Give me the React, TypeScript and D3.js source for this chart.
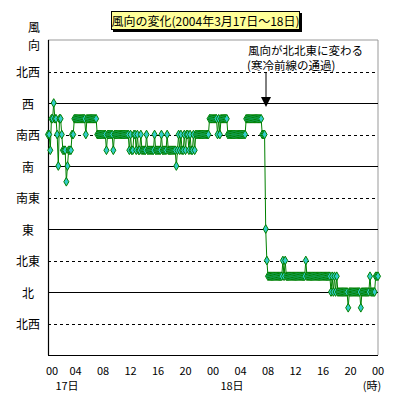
import React from "react";
import * as d3 from "d3";

// Wind direction codes (16-point): 0=北, 1=北北東, 2=北東, 4=東, 8=南, 9=南南西, 10=南西, 11=西南西, 12=西, -1=北北西
// 10-minute values, 17日 00:00 – 23:50
const day17: number[] = [
  10, 10, 9, 11, 11, 12, 11, 11, 10, 8, 11, 11,
  10, 9, 9, 9, 7, 8, 9, 9, 9, 10, 10, 11,
  11, 11, 11, 11, 11, 11, 11, 11, 11, 10, 11, 11,
  11, 11, 11, 11, 11, 11, 11, 10, 10, 10, 10, 10,
  10, 10, 10, 9, 10, 10, 10, 10, 10, 9, 10, 10,
  10, 10, 10, 10, 10, 10, 10, 10, 10, 10, 10, 9,
  10, 9, 9, 10, 10, 9, 10, 9, 9, 10, 9, 9,
  9, 9, 10, 9, 9, 9, 9, 9, 9, 10, 9, 9,
  9, 9, 9, 10, 9, 9, 9, 9, 10, 9, 9, 9,
  9, 9, 9, 9, 8, 9, 10, 9, 10, 9, 9, 10,
  9, 10, 10, 9, 10, 9, 9, 10, 9, 10, 10, 10,
  10, 10, 10, 10, 10, 10, 10, 10, 10, 11, 11, 11,
];
// 18日 00:00 – 19日 00:00
const day18: number[] = [
  11, 11, 11, 11, 10, 11, 10, 11, 11, 11, 11, 11,
  11, 10, 10, 10, 10, 10, 10, 10, 10, 10, 10, 10,
  10, 10, 10, 10, 10, 11, 11, 11, 11, 11, 11, 11,
  11, 11, 11, 11, 11, 11, 11, 10, 10, 10, 4, 2,
  1, 1, 1, 1, 1, 1, 1, 1, 1, 1, 1, 1,
  1, 2, 1, 2, 1, 1, 1, 1, 1, 1, 1, 1,
  1, 1, 1, 1, 1, 1, 1, 1, 1, 2, 1, 1,
  1, 1, 1, 1, 1, 1, 1, 1, 1, 1, 1, 1,
  1, 1, 1, 1, 1, 1, 1, 0, 1, 0, 1, 0,
  1, 0, 0, 0, 0, 0, 0, 0, 0, 0, -1, 0,
  0, 0, 0, 0, 0, 0, 0, 0, 0, -1, 0, 0,
  0, 0, 0, 0, 0, 1, 0, 0, 0, 0, 1, 1,
  1,
];

const dirLabels = ["北西", "西", "南西", "南", "南東", "東", "北東", "北", "北西"];
const dirCodes = [14, 12, 10, 8, 6, 4, 2, 0, -2];
const dirSolid = [false, true, false, true, false, true, false, true, false];

const hourTicks = [0, 4, 8, 12, 16, 20, 24, 28, 32, 36, 40, 44, 48];
const hourLabels = ["00", "04", "08", "12", "16", "20", "00", "04", "08", "12", "16", "20", "00"];
const dayLabels = ["17日", "18日"];
const dayStarts = [0, 24];

const title = "風向の変化(2004年3月17日～18日)";
const noteLines = ["風向が北北東に変わる", "(寒冷前線の通過)"];
const noteHour = 32;

const FONT = "'Noto Sans CJK JP', 'Noto Sans', sans-serif";

export default function App() {
  const W = 399, H = 399;
  const x = d3.scaleLinear().domain([0, 48]).range([48, 378]);
  const y = d3.scaleLinear().domain([-4, 16]).range([355, 40]);

  const values = [...day17, ...day18];
  const pts = values.map((v, i) => ({ h: i / 6, v }));
  const line = d3.line<{ h: number; v: number }>().x(d => x(d.h)).y(d => y(d.v));
  const diamond = d3.symbol().type(d3.symbolDiamond).size(22)();

  const ax = x(noteHour);

  return (
    <svg width={W} height={H} style={{ position: "absolute", left: 0, top: 0, background: "#fff" }}
      fontFamily={FONT}>
      {/* frame top/right */}
      <line x1={x(0)} x2={x(48)} y1={y(16)} y2={y(16)} stroke="#999" strokeWidth={1} />
      <line x1={x(48)} x2={x(48)} y1={y(16)} y2={y(-4)} stroke="#999" strokeWidth={1} />
      {/* grid */}
      {dirCodes.map((c, i) => (
        <line key={i} x1={x(0)} x2={x(48)} y1={Math.round(y(c)) + 0.5} y2={Math.round(y(c)) + 0.5}
          stroke="#000" strokeWidth={1} strokeDasharray={dirSolid[i] ? undefined : "3,3"} />
      ))}
      {/* axes */}
      <line x1={x(0) + 0.5} x2={x(0) + 0.5} y1={y(16)} y2={y(-4)} stroke="#000" strokeWidth={1.2} />
      <line x1={x(0)} x2={x(48)} y1={y(-4) + 0.5} y2={y(-4) + 0.5} stroke="#000" strokeWidth={1.2} />

      {/* y labels */}
      <text x={34} y={32} fontSize={12} textAnchor="middle">風</text>
      <text x={34} y={50} fontSize={12} textAnchor="middle">向</text>
      {dirLabels.map((l, i) => (
        <text key={i} x={28} y={y(dirCodes[i])} fontSize={12} textAnchor="middle" dominantBaseline="central">{l}</text>
      ))}

      {/* x labels */}
      {hourTicks.map((h, i) => (
        <text key={i} x={Math.max(x(h), 52)} y={375} fontSize={11} textAnchor="middle">{hourLabels[i]}</text>
      ))}
      {dayLabels.map((l, i) => (
        <text key={i} x={x(dayStarts[i]) + 19} y={390} fontSize={11} textAnchor="middle">{l}</text>
      ))}
      <text x={372} y={390} fontSize={11} textAnchor="middle">(時)</text>

      {/* data */}
      <path d={line(pts) || ""} fill="none" stroke="#008000" strokeWidth={1} />
      {pts.map((p, i) => (
        <path key={i} d={diamond} transform={`translate(${x(p.h)},${y(p.v)})`}
          fill="#33cccc" stroke="#008000" strokeWidth={1} />
      ))}

      {/* annotation */}
      <text x={248} y={55} fontSize={11.5}>{noteLines[0]}</text>
      <text x={247} y={70} fontSize={11.5}>{noteLines[1]}</text>
      <line x1={ax - 2} x2={ax - 2} y1={73} y2={98} stroke="#000" strokeWidth={1} />
      <path d={`M${ax - 7},97 L${ax + 3},97 L${ax - 2},107 Z`} fill="#000" />

      {/* title */}
      <rect x={113} y={13} width={189} height={19} fill="#000" />
      <rect x={111.5} y={11.5} width={188} height={18} fill="#ffff99" stroke="#000" strokeWidth={1} />
      <text x={205.5} y={26} fontSize={12} textAnchor="middle">{title}</text>
    </svg>
  );
}
